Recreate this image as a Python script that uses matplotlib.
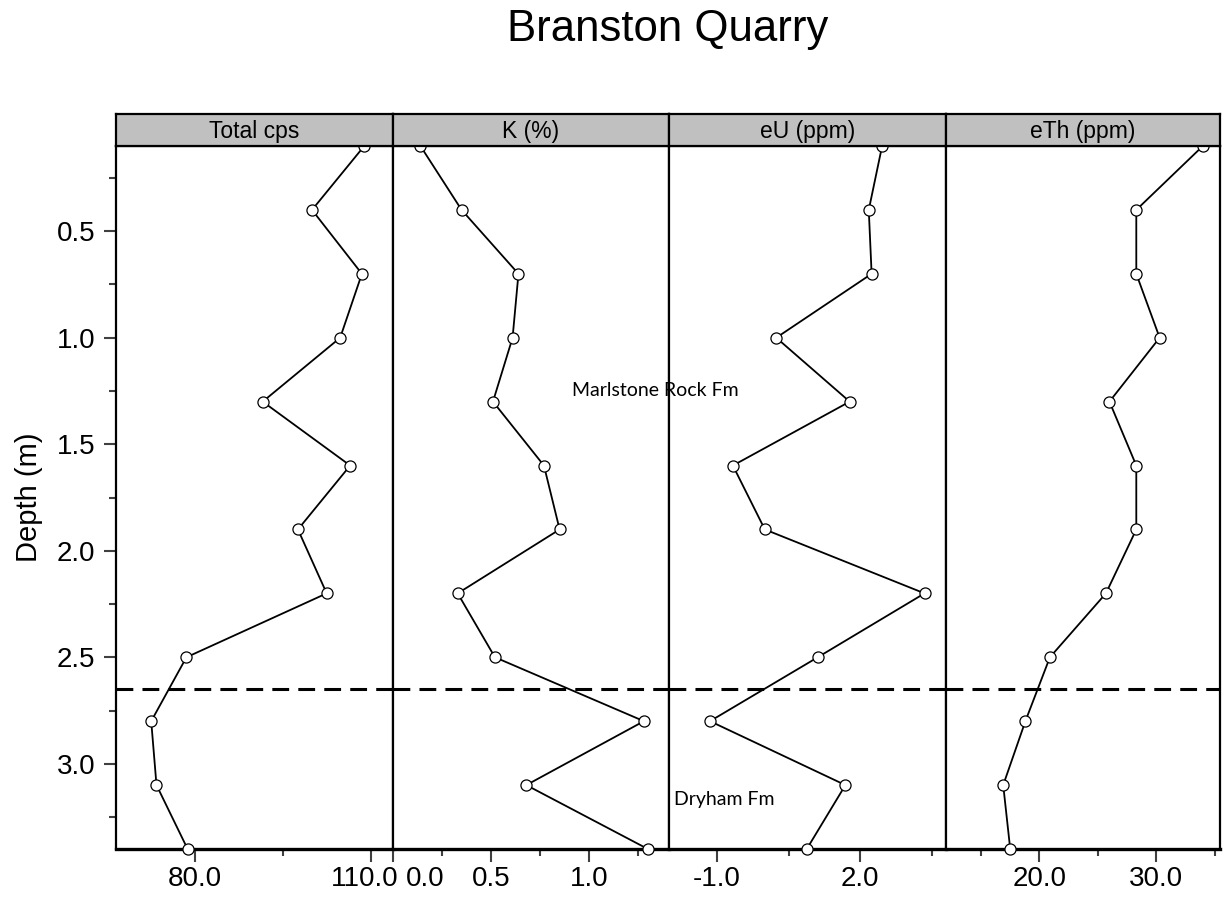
import matplotlib
matplotlib.use("Agg")
import matplotlib.pyplot as plt
import matplotlib.transforms as mtransforms

plt.rcParams['font.family'] = ['Liberation Sans', 'DejaVu Sans']

# depth of each gamma-ray reading (m)
depth = [0.1, 0.4, 0.7, 1.0, 1.3, 1.6, 1.9, 2.2, 2.5, 2.8, 3.1, 3.4]

total_cps = [108.8, 99.9, 108.4, 104.7, 91.5, 106.4, 97.5, 102.4, 78.5, 72.5, 73.4, 78.7]
k_pct = [0.14, 0.35, 0.64, 0.61, 0.51, 0.77, 0.85, 0.33, 0.52, 1.28, 0.68, 1.30]
eu_ppm = [2.46, 2.18, 2.24, 0.24, 1.78, -0.67, 0.0, 3.35, 1.11, -1.15, 1.69, 0.88]
eth_ppm = [34.0, 28.3, 28.3, 30.3, 26.0, 28.3, 28.3, 25.7, 20.9, 18.8, 16.9, 17.5]

panels = ["Total cps", "K (%)", "eU (ppm)", "eTh (ppm)"]
series = [total_cps, k_pct, eu_ppm, eth_ppm]
xlims = [(66.5, 113.7), (0.0, 1.408), (-2.01, 3.80), (12.0, 35.47)]
major = [[80, 110], [0.0, 0.5, 1.0], [-1, 2], [20, 30]]
minor = [[95], [0.25, 0.75, 1.25], [0.5, 3.5], [15, 25, 35]]
major_labels = [["80.0", "110.0"], ["0.0", "0.5", "1.0"], ["-1.0", "2.0"], ["20.0", "30.0"]]
# sideways nudge (points) for labels that would collide at panel joins
label_shift = {(0, 1): -5, (1, 0): 23}

boundary = 2.65  # Marlstone Rock Fm / Dryham Fm contact

W, H = 1227, 910
fig = plt.figure(figsize=(W / 100, H / 100), dpi=100)

edges = [116, 393, 669, 946, 1220]
top, bottom = 146, 849
tick_col = "#404040"

axes = []
for i in range(4):
    x0, x1 = edges[i], edges[i + 1]
    ax = fig.add_axes([x0 / W, 1 - bottom / H, (x1 - x0) / W, (bottom - top) / H])
    axes.append(ax)

    ax.plot(series[i], depth, color="black", lw=1.3, marker="o", ms=8,
            mfc="white", mec="black", mew=0.9, clip_on=False, zorder=3)
    ax.axhline(boundary, color="black", lw=2.2, dashes=(5.5, 3.0), zorder=2)

    ax.set_xlim(*xlims[i])
    ax.set_ylim(3.4, 0.1)

    ax.set_xticks(major[i], labels=major_labels[i])
    ax.set_xticks(minor[i], minor=True)
    ax.tick_params(axis="x", which="major", length=9, width=1.5, color=tick_col,
                   labelsize=20, pad=3, direction="out")
    ax.tick_params(axis="x", which="minor", length=5, width=1.5, color=tick_col,
                   direction="out")
    for j, lab in enumerate(ax.get_xticklabels()):
        if (i, j) in label_shift:
            dx = label_shift[(i, j)] / 72
            lab.set_transform(lab.get_transform() +
                              mtransforms.ScaledTranslation(dx, 0, fig.dpi_scale_trans))

    if i == 0:
        ax.set_yticks([0.5, 1.0, 1.5, 2.0, 2.5, 3.0],
                      labels=["0.5", "1.0", "1.5", "2.0", "2.5", "3.0"])
        ax.set_yticks([0.25, 0.75, 1.25, 1.75, 2.25, 2.75, 3.25], minor=True)
        ax.tick_params(axis="y", which="major", length=9, width=1.5, color=tick_col,
                       labelsize=20, pad=6)
        ax.tick_params(axis="y", which="minor", length=5, width=1.5, color=tick_col)
        ax.set_ylabel("Depth (m)", fontsize=21, labelpad=10)
    else:
        ax.set_yticks([])
        ax.tick_params(axis="y", which="minor", left=False)

    for s in ax.spines.values():
        s.set_linewidth(1.6)
    ax.spines["bottom"].set_linewidth(2.4)

    # grey strip with the variable name
    strip = fig.add_axes([x0 / W, 1 - top / H, (x1 - x0) / W, 32 / H])
    strip.set_facecolor("#c0c0c0")
    strip.set_xticks([])
    strip.set_yticks([])
    for s in strip.spines.values():
        s.set_linewidth(1.6)
    strip.text(0.5, 0.45, panels[i], ha="center", va="center", fontsize=16.5)

fig.text(668 / W, 1 - 30 / H, "Branston Quarry", ha="center", va="center", fontsize=31.5)

fig.text(572 / W, 1 - 391 / H, "Marlstone Rock Fm", ha="left", va="center",
         fontsize=14, family=["Lato", "DejaVu Sans"])
fig.text(674 / W, 1 - 800 / H, "Dryham Fm", ha="left", va="center",
         fontsize=14, family=["Lato", "DejaVu Sans"])

fig.savefig("out.png", dpi=100)
